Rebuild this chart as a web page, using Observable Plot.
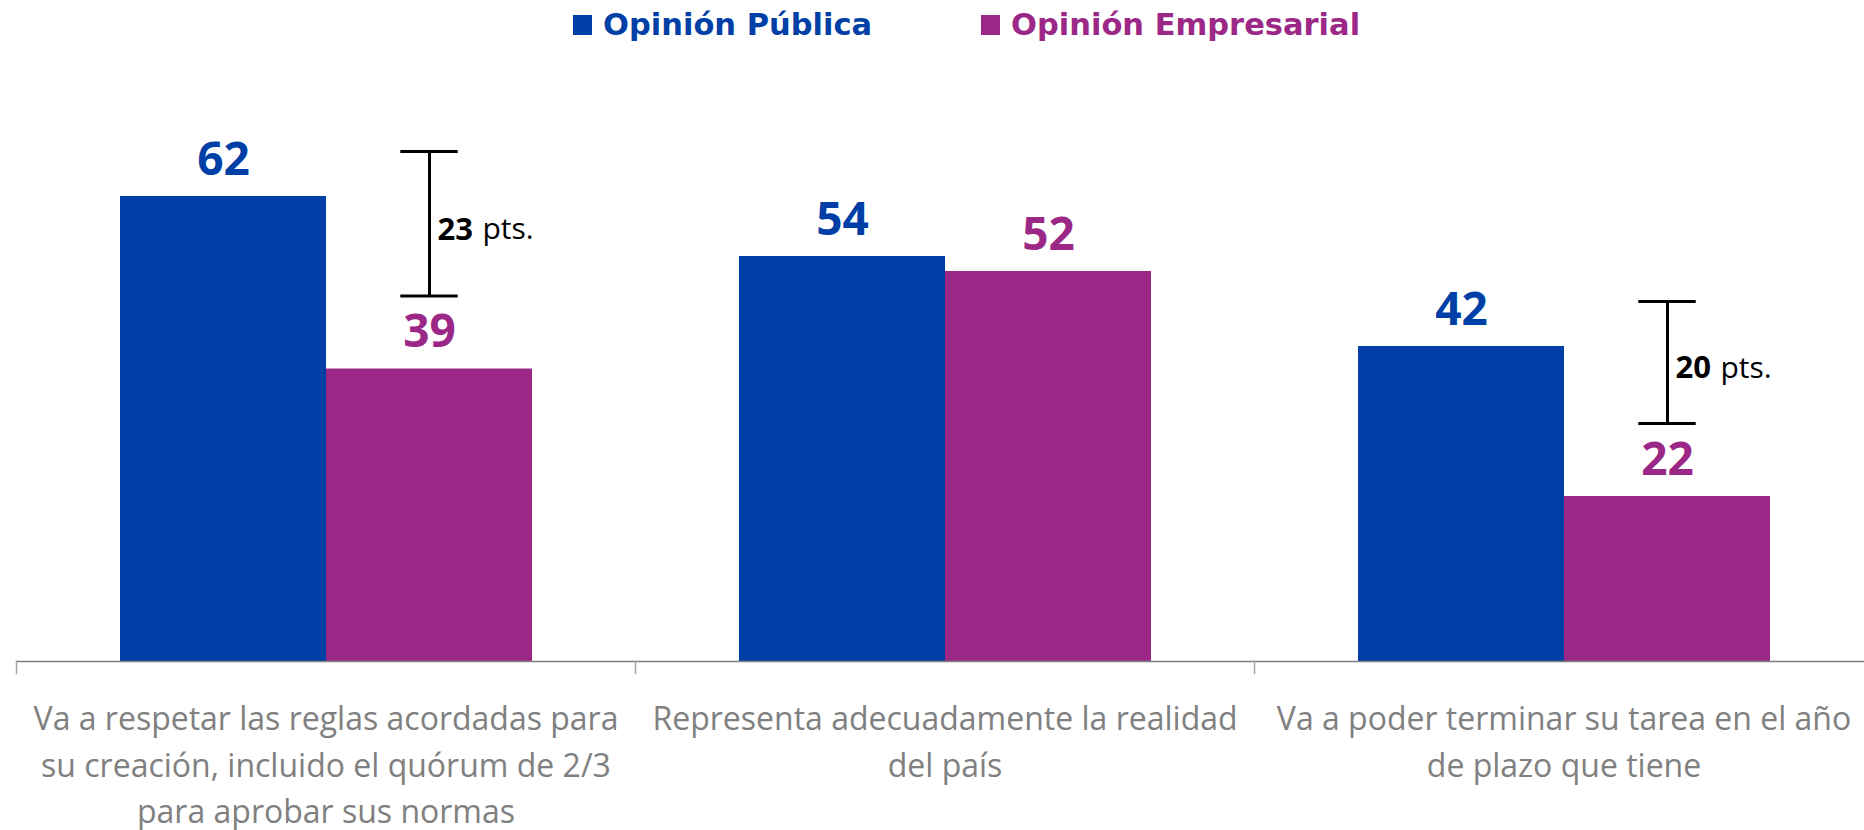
<!DOCTYPE html>
<html>
<head>
<meta charset="utf-8">
<script src="https://cdn.jsdelivr.net/npm/d3@7"></script>
<script src="https://cdn.jsdelivr.net/npm/@observablehq/plot@0.6"></script>
<style>
html, body { margin: 0; padding: 0; background: #fff; overflow: hidden; }
#legend { position: relative; width: 1864px; height: 60px; font-family: "DejaVu Sans", sans-serif; font-weight: bold; font-size: 30.5px; }
#legend .sw { position: absolute; top: 15px; width: 19px; height: 20px; }
#legend .lb { position: absolute; top: 10px; line-height: 30px; white-space: nowrap; }
#chart svg { display: block; }
</style>
</head>
<body>
<div id="legend"></div>
<div id="chart"></div>
<script>
// ---- data ----
const categories = [
  "Va a respetar las reglas acordadas para\nsu creación, incluido el quórum de 2/3\npara aprobar sus normas",
  "Representa adecuadamente la realidad\ndel país",
  "Va a poder terminar su tarea en el año\nde plazo que tiene"
];
const seriesNames = ["Opinión Pública", "Opinión Empresarial"];
const opinionPublica = [62, 54, 42];
const opinionEmpresarial = [39, 52, 22];
const gapCategoryIndex = [0, 2];   // categories annotated with the gap bracket
const seriesColors = ["#003FA6", "#9B2887"];

// ---- layout ----
const W = 1864, H = 770;
const mL = 15, mR = -10, mT = 16, mB = 169;
const bandW = (W - mL - mR) / categories.length / 3;
const capW = 58;

// ---- legend ----
const legend = document.getElementById("legend");
const legendLeft = [573, 981];
seriesNames.forEach((s, i) => {
  const sw = document.createElement("div");
  sw.className = "sw"; sw.style.left = legendLeft[i] + "px"; sw.style.background = seriesColors[i];
  const lb = document.createElement("div");
  lb.className = "lb"; lb.style.left = (legendLeft[i] + 30) + "px"; lb.style.color = seriesColors[i];
  lb.textContent = s;
  legend.appendChild(sw); legend.appendChild(lb);
});

// ---- tables ----
const rows = categories.flatMap((c, i) => [
  {cat: c, series: seriesNames[0], value: opinionPublica[i]},
  {cat: c, series: seriesNames[1], value: opinionEmpresarial[i]}
]);
const gaps = gapCategoryIndex.map(i => ({
  cat: categories[i],
  series: seriesNames[1],
  hi: opinionPublica[i],
  lo: opinionEmpresarial[i],
  mid: (opinionPublica[i] + opinionEmpresarial[i]) / 2,
  diff: String(opinionPublica[i] - opinionEmpresarial[i])
}));

const capInset = (bandW - capW) / 2;

const chart = Plot.plot({
  width: W, height: H,
  marginLeft: mL, marginRight: mR, marginTop: mT, marginBottom: mB,
  style: {fontFamily: "'Open Sans', sans-serif", background: "#fff", overflow: "visible"},
  fx: {domain: categories, padding: 0, axis: null},
  x: {domain: seriesNames, paddingInner: 0, paddingOuter: 0.5, axis: null},
  y: {domain: [0, 78], axis: null},
  color: {domain: seriesNames, range: seriesColors},
  marks: [
    Plot.barY(rows, {fx: "cat", x: "series", y: "value", fill: "series"}),
    Plot.ruleY([0], {stroke: "#808080", strokeWidth: 1.5}),
    Plot.frame({anchor: "left", stroke: "#a6a6a6", strokeWidth: 1.5, insetTop: H - mT - mB, insetBottom: -12}),
    Plot.text(rows, {fx: "cat", x: "series", y: "value", text: d => String(d.value),
      fill: "series", fontSize: 46, fontWeight: 700, lineAnchor: "bottom", dy: -22}),
    Plot.ruleX(gaps, {fx: "cat", x: "series", y1: "hi", y2: "lo", stroke: "#000", strokeWidth: 3,
      insetTop: -45, insetBottom: 73}),
    Plot.tickY(gaps, {fx: "cat", x: "series", y: "hi", dy: -45, stroke: "#000", strokeWidth: 3,
      insetLeft: capInset, insetRight: capInset}),
    Plot.tickY(gaps, {fx: "cat", x: "series", y: "lo", dy: -73, stroke: "#000", strokeWidth: 3,
      insetLeft: capInset, insetRight: capInset}),
    Plot.text(gaps, {fx: "cat", x: "series", y: "mid", text: "diff", textAnchor: "start",
      dx: 8, dy: -53, fontSize: 31, fontWeight: 700, fill: "#000", lineAnchor: "middle"}),
    Plot.text(gaps, {fx: "cat", x: "series", y: "mid", text: () => "pts.", textAnchor: "start",
      dx: 53, dy: -53, fontSize: 30, fontWeight: 400, fill: "#000", lineAnchor: "middle"}),
    Plot.text(categories, {fx: d => d, text: d => d, frameAnchor: "bottom", lineAnchor: "top",
      dy: 36, fontSize: 32, lineHeight: 1.45, fill: "#808080"})
  ]
});
document.getElementById("chart").appendChild(chart);
</script>
</body>
</html>
